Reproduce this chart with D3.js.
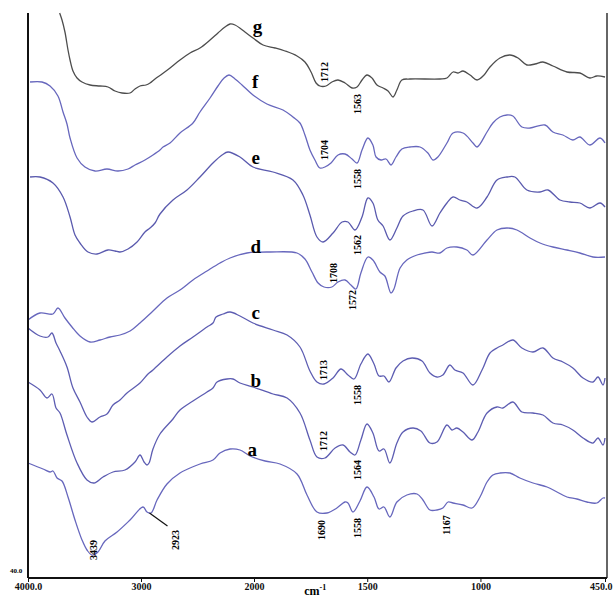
<!DOCTYPE html>
<html>
<head>
<meta charset="utf-8">
<script src="https://cdn.jsdelivr.net/npm/d3@7"></script>
<style>
  body { margin: 0; background: #fff; }
  svg { display: block; }
  .spec { fill: none; stroke-width: 1.3; stroke-linejoin: round; }
  text { font-family: "Liberation Serif", "Times New Roman", serif; }
</style>
</head>
<body>
<svg width="613" height="599"></svg>
<script>
// FTIR spectra, wavenumber (cm-1) vs transmittance (offset)
const specG = [[3720,153.0],[3699,151.6],[3673,149.2],[3646,145.6],[3628,143.6],[3602,141.4],[3566,140.0],[3522,139.2],[3451,138.6],[3363,138.4],[3292,138.2],[3230,137.4],[3168,137.0],[3097,137.0],[3053,137.8],[3009,138.4],[2956,138.6],[2920,139.0],[2876,139.8],[2814,140.8],[2743,142.0],[2655,143.6],[2566,145.0],[2478,146.0],[2389,147.6],[2319,149.0],[2257,150.2],[2212,150.8],[2168,150.6],[2080,149.2],[2009,148.0],[1960,146.6],[1907,146.0],[1863,145.4],[1810,144.4],[1775,143.2],[1748,141.2],[1726,139.0],[1709,138.4],[1682,138.4],[1656,139.2],[1629,139.6],[1598,139.0],[1567,138.0],[1545,138.2],[1523,139.6],[1501,140.6],[1479,140.0],[1457,138.6],[1430,138.0],[1408,137.4],[1386,136.2],[1369,137.6],[1347,139.6],[1311,139.8],[1179,139.8],[1148,140.0],[1121,141.2],[1099,141.0],[1077,141.4],[1046,140.6],[1015,139.6],[984,140.6],[958,142.2],[914,144.0],[870,144.6],[834,144.0],[795,142.6],[759,142.8],[724,143.2],[680,142.4],[618,141.2],[561,141.0],[517,140.0],[486,140.4],[450,140.2]];

const specF = [[3982,139.2],[3876,139.2],[3805,138.4],[3735,136.4],[3690,133.2],[3655,130.8],[3628,128.0],[3566,124.0],[3496,122.2],[3407,121.4],[3301,121.8],[3204,121.4],[3115,121.8],[3053,122.6],[2965,123.6],[2894,124.6],[2832,125.6],[2805,126.2],[2743,127.0],[2655,129.0],[2540,131.0],[2478,133.2],[2389,136.0],[2319,138.4],[2265,140.0],[2221,140.6],[2168,139.8],[2106,138.6],[2009,136.6],[1943,134.8],[1872,133.6],[1828,132.2],[1797,131.0],[1775,128.6],[1753,125.6],[1731,123.6],[1709,122.0],[1687,122.2],[1660,123.0],[1629,124.6],[1598,124.8],[1567,123.8],[1545,123.0],[1523,125.6],[1497,128.0],[1475,126.6],[1461,124.2],[1439,123.6],[1417,123.8],[1395,122.6],[1373,124.2],[1347,125.8],[1311,126.2],[1267,126.2],[1232,125.0],[1210,123.6],[1188,124.2],[1148,127.0],[1121,129.0],[1077,129.0],[1033,127.0],[1015,126.2],[971,129.2],[945,131.0],[914,132.2],[883,132.6],[857,132.4],[817,130.2],[781,130.0],[715,130.6],[680,129.2],[636,128.6],[592,127.6],[561,128.2],[517,126.6],[472,128.0],[450,127.0]];

const specE = [[3982,120.2],[3894,120.2],[3779,119.0],[3690,116.2],[3628,112.2],[3584,108.6],[3540,107.0],[3469,105.2],[3389,104.8],[3292,105.6],[3230,105.4],[3186,105.2],[3115,105.8],[3035,107.2],[2965,109.2],[2920,110.0],[2876,111.0],[2832,112.8],[2717,115.6],[2593,117.6],[2478,120.2],[2363,123.0],[2283,124.6],[2230,125.2],[2124,124.2],[2009,122.2],[1916,121.2],[1828,119.6],[1784,116.6],[1753,112.6],[1722,108.2],[1695,107.2],[1651,109.0],[1611,111.2],[1585,111.2],[1554,109.6],[1523,112.2],[1497,116.0],[1475,115.0],[1453,111.6],[1430,110.4],[1400,107.6],[1369,110.0],[1342,112.4],[1298,113.4],[1254,113.6],[1214,110.4],[1179,113.0],[1148,115.0],[1121,116.2],[1091,115.6],[1060,115.2],[1015,114.0],[971,116.2],[927,119.6],[883,120.2],[848,120.2],[795,117.6],[737,117.2],[702,117.6],[649,115.6],[605,115.2],[561,115.0],[517,114.0],[472,115.0],[450,114.2]];

const specD = [[4000,91.6],[3894,93.0],[3779,92.8],[3735,94.0],[3673,92.0],[3611,90.2],[3540,88.4],[3451,87.2],[3363,87.6],[3274,88.2],[3186,88.6],[3097,89.4],[3009,91.0],[2894,93.4],[2770,96.0],[2655,97.6],[2540,99.6],[2416,101.4],[2301,103.0],[2212,104.0],[2062,105.0],[1929,105.2],[1810,105.0],[1775,103.8],[1744,101.2],[1717,99.0],[1691,98.2],[1656,98.2],[1629,99.2],[1598,99.6],[1572,98.6],[1550,97.8],[1528,101.0],[1497,104.2],[1475,103.6],[1444,101.2],[1422,100.4],[1395,97.0],[1382,97.8],[1355,102.0],[1325,103.6],[1280,104.6],[1245,105.0],[1214,105.2],[1179,105.0],[1148,106.0],[1104,106.2],[1060,105.6],[1033,104.6],[971,107.6],[927,109.6],[883,110.0],[839,109.6],[781,108.0],[737,107.0],[680,106.2],[618,105.6],[561,105.0],[503,104.2],[450,104.2]];

const specC = [[4000,90.0],[3894,88.4],[3823,88.2],[3788,89.0],[3752,87.0],[3717,85.4],[3655,82.2],[3602,78.0],[3540,75.2],[3478,72.2],[3434,71.2],[3363,72.2],[3301,72.8],[3248,74.6],[3186,75.6],[3124,77.0],[3009,79.0],[2938,80.8],[2894,81.6],[2770,84.2],[2655,86.4],[2540,88.2],[2416,90.2],[2363,91.0],[2336,92.2],[2274,92.8],[2212,93.2],[2124,92.4],[2009,91.0],[1916,89.6],[1854,88.6],[1797,86.2],[1753,81.4],[1722,79.2],[1691,78.8],[1651,80.0],[1616,81.8],[1585,80.6],[1558,79.8],[1528,82.8],[1497,84.8],[1470,82.8],[1448,80.4],[1426,80.4],[1404,79.2],[1373,82.0],[1342,83.4],[1302,84.0],[1258,83.4],[1223,81.0],[1192,80.2],[1166,80.6],[1135,82.6],[1113,81.6],[1077,81.0],[1033,78.6],[993,81.6],[958,85.0],[927,86.0],[901,86.6],[857,87.6],[817,86.0],[768,85.2],[724,86.0],[680,84.0],[636,83.2],[592,82.0],[547,80.0],[503,79.2],[481,80.2],[459,78.6],[450,80.0]];

const specB = [[4000,79.2],[3894,77.6],[3832,76.0],[3788,76.8],[3752,74.0],[3717,73.0],[3655,68.6],[3566,63.0],[3478,59.6],[3416,59.0],[3336,60.2],[3248,61.2],[3142,61.6],[3053,63.2],[3009,64.6],[2973,63.2],[2947,62.6],[2929,63.0],[2894,65.8],[2832,68.8],[2717,71.8],[2655,73.6],[2540,75.4],[2416,77.2],[2363,78.0],[2327,79.2],[2239,79.8],[2186,79.8],[2124,79.0],[2009,78.2],[1916,76.8],[1854,76.0],[1797,73.0],[1753,67.6],[1722,64.2],[1687,64.0],[1642,66.0],[1607,66.6],[1576,65.2],[1554,64.6],[1528,67.6],[1501,70.8],[1475,69.0],[1448,65.4],[1426,65.8],[1400,63.0],[1369,67.0],[1342,69.2],[1298,70.0],[1263,69.4],[1223,67.0],[1192,67.2],[1148,70.6],[1126,69.6],[1104,70.0],[1077,69.2],[1037,67.6],[1011,69.2],[971,73.0],[927,74.2],[901,74.0],[857,75.2],[817,73.2],[768,73.0],[724,72.6],[680,71.0],[636,70.6],[592,69.6],[547,68.0],[503,67.0],[481,68.0],[459,66.6],[450,68.0]];

const specA = [[4000,63.0],[3867,61.8],[3805,61.2],[3779,61.4],[3743,60.0],[3699,59.4],[3646,56.2],[3584,51.6],[3522,47.6],[3478,45.6],[3434,44.6],[3381,45.2],[3319,47.4],[3212,49.2],[3097,51.6],[2982,54.2],[2947,53.2],[2911,53.0],[2858,55.6],[2770,58.8],[2655,61.0],[2478,62.8],[2363,63.6],[2301,65.0],[2212,65.8],[2124,65.6],[2035,64.4],[1951,63.4],[1885,62.8],[1810,60.8],[1766,56.6],[1722,53.2],[1678,53.0],[1634,54.0],[1598,55.2],[1585,55.0],[1563,53.2],[1532,55.4],[1501,58.2],[1470,56.2],[1448,53.8],[1426,54.2],[1400,52.2],[1369,55.2],[1325,56.6],[1280,56.8],[1254,55.6],[1223,53.6],[1192,53.6],[1166,54.0],[1143,55.2],[1121,55.0],[1077,54.6],[1037,54.0],[1002,56.2],[971,59.2],[945,60.6],[914,61.0],[870,61.0],[826,60.0],[768,59.0],[706,58.2],[662,57.2],[618,56.2],[574,55.8],[530,55.2],[486,55.0],[459,56.0],[450,56.0]];

const curveNames = ["g", "f", "e", "d", "c", "b", "a"];
const curveSpecs = [specG, specF, specE, specD, specC, specB, specA];
// letter label anchors [wavenumber, value]
const letterPos = [[1985,149.0],[1995,138.0],[1992,122.8],[1992,105.0],[1992,91.8],[1992,78.2],[2015,64.4]];

const tickValues = [4000, 3000, 2000, 1500, 1000, 450];
const tickLabels = ["4000.0", "3000", "2000", "1500", "1000", "450.0"];

// peak annotations: text, wavenumber, value at text centre
const peakText = ["1712", "1563", "1704", "1558", "1562", "1708", "1572", "1713", "1558", "1712", "1564", "1690", "1558", "1167", "3439", "2923"];
const peakWn   = [1687, 1545, 1687, 1541, 1541, 1651, 1563, 1695, 1541, 1695, 1545, 1700, 1545, 1148, 3416, 2699];
const peakVal  = [141.2, 134.8, 125.6, 119.8, 106.6, 101.0, 95.6, 81.6, 76.6, 67.4, 61.6, 49.6, 50.0, 50.6, 45.6, 47.6];

const svg = d3.select("svg");
const plotLeft = 28, plotRight = 607, plotTop = 13, plotBottom = 578;

// split wavenumber axis: 4000-2000 compressed, 2000-450 expanded
const x = d3.scaleLinear().domain([4000, 2000, 450]).range([plotLeft, 254, 605]);
const y = d3.scaleLinear().domain([40, 153]).range([plotBottom, plotTop]);

const line = d3.line()
    .x(d => x(d[0]))
    .y(d => y(d[1]))
    .curve(d3.curveCatmullRom.alpha(0.5));

const colors = ["#4d4d4d", "#6767bd", "#5a5aae", "#6767bd", "#5d5db2", "#5d5db2", "#6767bd"];

svg.selectAll(".spec")
    .data(curveSpecs)
    .enter().append("path")
    .attr("class", "spec")
    .attr("stroke", (d, i) => colors[i])
    .attr("d", line);

// frame
svg.append("line")
    .attr("x1", plotLeft).attr("x2", plotLeft)
    .attr("y1", plotTop).attr("y2", plotBottom)
    .attr("stroke", "#111").attr("stroke-width", 2);
svg.append("line")
    .attr("x1", plotRight).attr("x2", plotRight)
    .attr("y1", plotTop).attr("y2", plotBottom)
    .attr("stroke", "#333").attr("stroke-width", 1.5);

const xAxis = d3.axisBottom(x)
    .tickValues(tickValues)
    .tickSize(4)
    .tickFormat((d, i) => tickLabels[i]);

const gx = svg.append("g")
    .attr("transform", `translate(0,${plotBottom})`)
    .call(xAxis);
gx.select(".domain").attr("stroke", "#111").attr("stroke-width", 2)
    .attr("d", `M${plotLeft},0H${plotRight}`);
gx.selectAll(".tick line").attr("stroke", "#111");
gx.selectAll(".tick text")
    .attr("font-family", "Liberation Serif")
    .attr("font-size", 10)
    .attr("font-weight", "bold")
    .attr("fill", "#111")
    .attr("dy", "0.5em");
// last label sits against the right edge
gx.selectAll(".tick text").filter(d => d === 450)
    .attr("text-anchor", "end")
    .attr("dx", 7);

svg.append("text")
    .attr("x", 16).attr("y", 573)
    .attr("text-anchor", "middle")
    .attr("font-size", 7)
    .attr("font-weight", "bold")
    .text("40.0");

const xt = svg.append("text")
    .attr("x", x(1730)).attr("y", 595)
    .attr("text-anchor", "middle")
    .attr("font-size", 12)
    .attr("font-weight", "bold");
xt.append("tspan").text("cm");
xt.append("tspan").attr("dy", -5).attr("font-size", 8).text("-1");

// curve letters
svg.selectAll(".letter")
    .data(curveNames)
    .enter().append("text")
    .attr("class", "letter")
    .attr("x", (d, i) => x(letterPos[i][0]))
    .attr("y", (d, i) => y(letterPos[i][1]))
    .attr("text-anchor", "middle")
    .attr("font-size", 19)
    .attr("font-weight", "bold")
    .text(d => d);

// peak labels
svg.selectAll(".peak")
    .data(peakText)
    .enter().append("text")
    .attr("class", "peak")
    .attr("transform", (d, i) => `translate(${x(peakWn[i])},${y(peakVal[i])}) rotate(-90)`)
    .attr("text-anchor", "middle")
    .attr("dominant-baseline", "central")
    .attr("font-size", 10)
    .attr("font-weight", "bold")
    .text(d => d);

// leader for 2923
svg.append("line")
    .attr("x1", x(2925)).attr("y1", y(53.0))
    .attr("x2", x(2925) + 18).attr("y2", y(53.0) + 13)
    .attr("stroke", "#111").attr("stroke-width", 1.2);
</script>
</body>
</html>
